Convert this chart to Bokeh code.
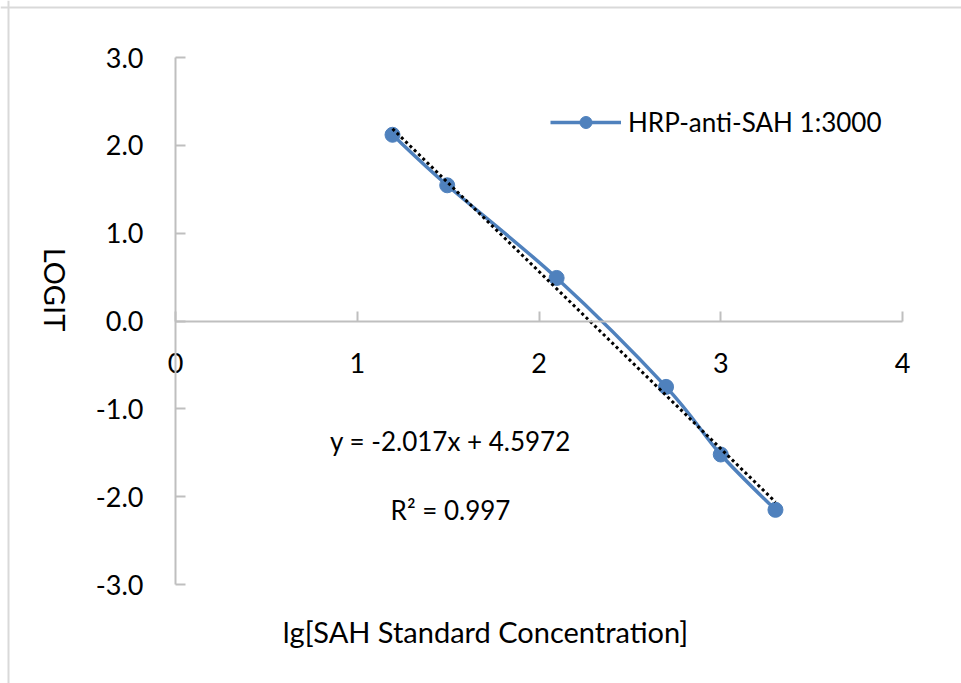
import math
from bokeh.plotting import figure
from bokeh.models import (FixedTicker, PrintfTickFormatter, Label, Legend,
                          LegendItem, Span)
from bokeh.embed import file_html
from bokeh.resources import INLINE

# ---- data ----
lg_conc = [1.194, 1.495, 2.097, 2.699, 3.000, 3.301]
logit = [2.12, 1.545, 0.49, -0.75, -1.52, -2.15]
series_name = "HRP-anti-SAH 1:3000"
slope = -2.017
intercept = 4.5972
r2 = 0.997
x_ticks = [0, 1, 2, 3, 4]
y_ticks = [-3, -2, -1, 0, 1, 2, 3]
x_title = "lg[SAH Standard Concentration]"
y_title = "LOGIT"
eq_text = "y = -2.017x + 4.5972"
r2_text = "R\u00b2 = 0.997"

# ---- layout (page pixels) ----
OFF = 0
W, H = 961, 683
KX = (902 - 175) / 4.0
KY = (584 - 57) / 6.0
xs = 0 - (175 - OFF) / KX
xe = xs + W / KX
ye = 3 + (57 - OFF) / KY
ys = ye - H / KY


def dx(px):
    return xs + (px - OFF) / KX


def dy(py):
    return ye - (py - OFF) / KY


FONT = "Lato"
BLUE = "#4F81BD"

p = figure(width=W, height=H, x_range=(xs, xe), y_range=(ys, ye),
           output_backend="svg", toolbar_location=None, min_border=0)
p.grid.visible = False
p.outline_line_color = None
p.background_fill_color = "white"
p.border_fill_color = "white"

for ax, ticks in ((p.xaxis, x_ticks), (p.yaxis, y_ticks)):
    ax.fixed_location = 0
    ax.ticker = FixedTicker(ticks=ticks)
    ax.minor_tick_line_color = None
    ax.major_tick_in = 10
    ax.major_tick_out = 0
    ax.axis_line_color = "#bfbfbf"
    ax.axis_line_width = 2
    ax.major_tick_line_color = "#bfbfbf"
    ax.major_tick_line_width = 2
    ax.major_label_text_font = FONT
    ax.major_label_text_font_size = "27px"
    ax.major_label_text_color = "black"

p.xaxis.bounds = (min(x_ticks), max(x_ticks))
p.yaxis.bounds = (min(y_ticks), max(y_ticks))
p.yaxis.formatter = PrintfTickFormatter(format="%.1f")
p.xaxis.major_label_standoff = 32
p.yaxis.major_label_standoff = 32

# outer chart border (left / top)
p.add_layout(Span(location=dx(8), dimension="height", line_color="#d9d9d9", line_width=2))
p.add_layout(Span(location=dy(7), dimension="width", line_color="#d9d9d9", line_width=2))

# smoothed series line (Catmull-Rom style Bezier, as Excel)
n = len(lg_conc)
x0s, y0s, x1s, y1s, cx0, cy0, cx1, cy1 = ([] for _ in range(8))
for i in range(n - 1):
    pm = max(i - 1, 0)
    pp = min(i + 2, n - 1)
    x0s.append(lg_conc[i]); y0s.append(logit[i])
    x1s.append(lg_conc[i + 1]); y1s.append(logit[i + 1])
    cx0.append(lg_conc[i] + (lg_conc[i + 1] - lg_conc[pm]) / 6.0)
    cy0.append(logit[i] + (logit[i + 1] - logit[pm]) / 6.0)
    cx1.append(lg_conc[i + 1] - (lg_conc[pp] - lg_conc[i]) / 6.0)
    cy1.append(logit[i + 1] - (logit[pp] - logit[i]) / 6.0)

bz = p.bezier(x0=x0s, y0=y0s, x1=x1s, y1=y1s, cx0=cx0, cy0=cy0, cx1=cx1, cy1=cy1,
              line_color=BLUE, line_width=3.5)
sc = p.scatter(lg_conc, logit, size=15, marker="circle", fill_color=BLUE, line_color=BLUE)

# linear trendline
tx = [lg_conc[0], lg_conc[-1]]
ty = [slope * v + intercept for v in tx]
p.line(tx, ty, line_color="black", line_width=3, line_dash="3 3")

# texts
p.add_layout(Label(x=dx(450), y=dy(440), text=eq_text, text_align="center",
                   text_baseline="middle", text_font=FONT, text_font_size="26px",
                   text_color="black"))
p.add_layout(Label(x=dx(450), y=dy(509), text=r2_text, text_align="center",
                   text_baseline="middle", text_font=FONT, text_font_size="26px",
                   text_color="black"))
p.add_layout(Label(x=dx(485), y=dy(631), text=x_title, text_align="center",
                   text_baseline="middle", text_font=FONT, text_font_size="29px",
                   text_color="black"))
p.add_layout(Label(x=dx(55), y=dy(289), text=y_title, text_align="center",
                   text_baseline="middle", angle=-math.pi / 2, text_font=FONT,
                   text_font_size="29px", text_color="black"))

legend = Legend(items=[LegendItem(label=series_name, renderers=[bz, sc])],
                location=(550 - OFF, (OFF + H) - 138),
                glyph_width=71, glyph_height=30, label_height=30,
                label_standoff=7, padding=0, margin=0, spacing=0,
                border_line_color=None, background_fill_alpha=0,
                label_text_font=FONT, label_text_font_size="26px",
                label_text_color="black")
p.add_layout(legend, "center")

open("out.html", "w").write(file_html(p, INLINE))
